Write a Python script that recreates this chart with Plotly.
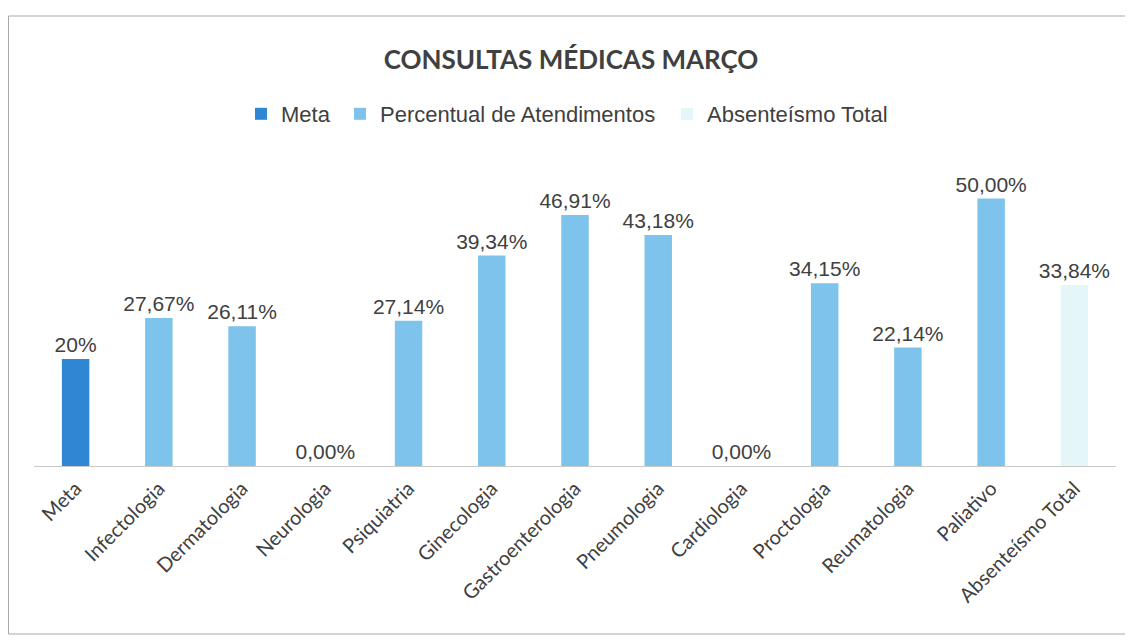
import plotly.graph_objects as go

categories = ["Meta", "Infectologia", "Dermatologia", "Neurologia", "Psiquiatria",
              "Ginecologia", "Gastroenterologia", "Pneumologia", "Cardiologia",
              "Proctologia", "Reumatologia", "Paliativo", "Absenteísmo Total"]

meta_cats = ["Meta"]
meta_vals = [0.20]

perc_cats = ["Infectologia", "Dermatologia", "Neurologia", "Psiquiatria",
             "Ginecologia", "Gastroenterologia", "Pneumologia", "Cardiologia",
             "Proctologia", "Reumatologia", "Paliativo"]
perc_vals = [0.2767, 0.2611, 0.0, 0.2714, 0.3934, 0.4691, 0.4318, 0.0,
             0.3415, 0.2214, 0.50]

abs_cats = ["Absenteísmo Total"]
abs_vals = [0.3384]

# page has an 8px body margin; figure sized to fit the window exactly
OFF = 8
W, H = 1133 - OFF, 642 - OFF
ML, MR, MT, MB = 26, 17, 142, 176

label_font = dict(family="Liberation Sans, Arial, sans-serif", size=21, color="#404040")

fig = go.Figure()
fig.add_trace(go.Bar(x=meta_cats, y=meta_vals, name="Meta",
                     marker=dict(color="#2F86D3", line=dict(width=0)),
                     texttemplate="%{y:.0%}", textposition="outside",
                     constraintext="none", cliponaxis=False,
                     textfont=label_font, legend="legend", showlegend=True))
fig.add_trace(go.Bar(x=perc_cats, y=perc_vals, name="Percentual de Atendimentos",
                     marker=dict(color="#7DC3EC", line=dict(width=0)),
                     texttemplate="%{y:.2%}", textposition="outside",
                     constraintext="none", cliponaxis=False,
                     textfont=label_font, legend="legend2", showlegend=True))
fig.add_trace(go.Bar(x=abs_cats, y=abs_vals, name="Absenteísmo Total",
                     marker=dict(color="#E4F6F8", line=dict(width=0)),
                     texttemplate="%{y:.2%}", textposition="outside",
                     constraintext="none", cliponaxis=False,
                     textfont=label_font, legend="legend3", showlegend=True))

pw = W - ML - MR
ph = H - MT - MB

def px(xpage):
    return (xpage - OFF - ML) / pw

def py(ypage):
    return (H - MB - (ypage - OFF)) / ph

leg_common = dict(orientation="h", yanchor="middle", xanchor="left",
                  font=dict(family="Liberation Sans, Arial, sans-serif", size=22, color="#404040"),
                  bgcolor="rgba(0,0,0,0)", itemwidth=30)

LEG_Y = 114
fig.update_layout(
    width=W, height=H, showlegend=True,
    margin=dict(l=ML, r=MR, t=MT, b=MB, autoexpand=False),
    paper_bgcolor="white", plot_bgcolor="white",
    barmode="overlay", bargap=0.67,
    separators=",.",
    title=dict(text="<b>CONSULTAS MÉDICAS MARÇO</b>", x=(571 - OFF) / W, xanchor="center",
               y=1 - (60 - OFF) / H, yanchor="middle",
               font=dict(family="Lato, Carlito, sans-serif", size=26, color="#404040")),
    xaxis=dict(categoryorder="array", categoryarray=categories, tickangle=-45,
               showline=True, linecolor="#C8C8C8", linewidth=1, ticks="",
               showgrid=False, automargin=False, ticklabelstandoff=2,
               tickfont=dict(family="Lato, Carlito, sans-serif", size=20, color="#404040")),
    yaxis=dict(range=[0, 0.5907], visible=False, showgrid=False, zeroline=False),
    legend=dict(x=px(241), y=py(LEG_Y), **leg_common),
    legend2=dict(x=px(340), y=py(LEG_Y), **leg_common),
    legend3=dict(x=px(667), y=py(LEG_Y), **leg_common),
    shapes=[dict(type="rect", xref="paper", yref="paper",
                 x0=px(8.5), x1=px(1127), y0=py(634), y1=py(16),
                 line=dict(color="#A8A8A8", width=1), fillcolor="rgba(0,0,0,0)")],
)

fig.write_html("out.html")
